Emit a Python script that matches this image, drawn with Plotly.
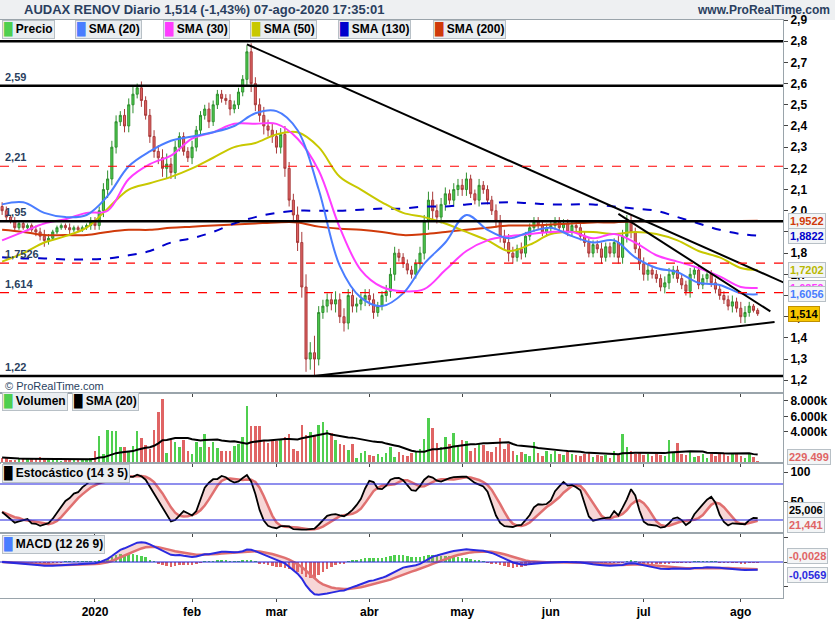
import numpy as np
import pandas as pd
import plotly.graph_objects as go
from plotly.subplots import make_subplots

# daily closes, dic-2019 .. 07-ago-2020
close = [
    2.00, 1.97, 1.95, 1.92, 1.94, 1.92, 1.93, 1.91, 1.90, 1.88, 1.86, 1.87, 1.90, 1.92, 1.93, 1.92, 1.91, 1.92, 1.91, 1.92, 1.93, 1.95,
    1.93, 2.00, 2.10, 2.15, 2.30, 2.42, 2.45, 2.40, 2.50, 2.55, 2.58, 2.52, 2.45, 2.35, 2.28, 2.25, 2.20, 2.22, 2.18, 2.30, 2.35, 2.28, 2.25,
    2.30, 2.38, 2.45, 2.48, 2.42, 2.50, 2.55, 2.53, 2.52, 2.48, 2.50, 2.56, 2.62, 2.75, 2.60, 2.50, 2.45, 2.40, 2.38, 2.35,
    2.30, 2.36, 2.20, 2.05, 1.98, 1.85, 1.64, 1.30, 1.33, 1.30, 1.52, 1.55, 1.58, 1.56, 1.58, 1.50, 1.47, 1.60, 1.55, 1.56, 1.58, 1.60,
    1.58, 1.52, 1.55, 1.60, 1.62, 1.70, 1.80, 1.78, 1.75, 1.72, 1.70, 1.75, 1.80, 1.95, 2.05, 2.00, 1.97, 2.03, 2.08, 2.05, 2.10, 2.12,
    2.10, 2.15, 2.08, 2.05, 2.12, 2.10, 2.05, 2.00, 1.95, 1.88, 1.85, 1.80, 1.78, 1.82, 1.80, 1.88, 1.92, 1.95, 1.93, 1.90, 1.92,
    1.93, 1.95, 1.92, 1.94, 1.90, 1.93, 1.92, 1.88, 1.85, 1.80, 1.84, 1.82, 1.78, 1.83, 1.80, 1.85, 1.78, 1.88, 1.95, 1.90, 1.82, 1.75,
    1.70, 1.72, 1.70, 1.68, 1.64, 1.66, 1.70, 1.72, 1.68, 1.65, 1.62, 1.70, 1.72, 1.65, 1.68, 1.70, 1.66, 1.63, 1.60, 1.58, 1.55, 1.57, 1.54,
    1.50, 1.52, 1.55, 1.53, 1.514,
]
# wick length beyond the candle body, in hundredths
wick = [
    2, 2, 1, 2, 1, 1, 1, 1, 2, 2, 3, 2, 1, 1, 1, 1, 2, 1, 1, 1, 1, 2,
    2, 2, 3, 4, 3, 3, 2, 3, 3, 4, 2, 3, 2, 3, 3, 3, 4, 5, 3, 3, 2, 2, 2,
    3, 2, 2, 2, 3, 2, 2, 2, 2, 3, 2, 2, 2, 3, 4, 3, 3, 4, 3, 3,
    3, 3, 4, 3, 3, 4, 5, 6, 5, 8, 3, 3, 3, 3, 4, 3, 4, 3, 3, 3, 3, 3,
    3, 3, 2, 2, 3, 3, 3, 2, 2, 2, 2, 2, 3, 3, 4, 4, 3, 3, 3, 2, 3, 3,
    3, 3, 2, 2, 3, 2, 2, 2, 3, 3, 3, 4, 3, 2, 3, 2, 2, 2, 2, 2, 2,
    2, 2, 2, 2, 2, 2, 2, 2, 2, 2, 2, 2, 3, 2, 2, 2, 3, 3, 3, 3, 2, 3,
    3, 3, 2, 2, 2, 3, 3, 2, 2, 2, 2, 3, 2, 2, 2, 2, 2, 2, 2, 2, 2, 3, 2,
    3, 3, 2, 1, 1,
]
volume = [  # thousands
    700, 600, 450, 400, 700, 500, 500, 600, 550, 800, 700, 600, 450, 350, 300, 400, 350, 400, 350, 350, 400, 650,
    1600, 3500, 1200, 4200, 4100, 4100, 2100, 2100, 1500, 2200, 4100, 3200, 2300, 1800, 4200, 6600, 8200, 1300, 3000, 2700, 2100, 2900, 1500,
    1200, 2700, 2100, 3700, 2100, 2700, 1900, 1500, 1500, 1600, 2200, 2500, 3300, 7300, 4800, 4800, 4800, 2800, 2600, 2900,
    2800, 2900, 3300, 3700, 1800, 1600, 4900, 3600, 4000, 3600, 4900, 5300, 4300, 3800, 3000, 2400, 2300, 1700, 2400, 700, 1300, 1500,
    1000, 900, 1100, 800, 1300, 2100, 800, 1400, 1000, 900, 1300, 1600, 1800, 3100, 5800, 4500, 2600, 2000, 3400, 2500, 3800, 2200,
    3000, 2800, 1500, 1900, 2500, 2300, 1500, 1400, 2000, 3200, 1800, 2400, 1500, 1000, 1400, 1200, 900, 2700, 1300, 900, 1500,
    1100, 1500, 1200, 1000, 1400, 1100, 1000, 900, 1200, 1300, 800, 1000, 900, 1000, 700, 1500, 1200, 3700, 2000, 1500, 1200, 1300,
    1000, 1200, 900, 1100, 1000, 900, 3000, 1400, 2600, 1200, 1000, 1500, 800, 900, 1100, 700, 1200, 900, 1300, 1100, 900, 1300, 1200,
    900, 700, 1300, 800, 230,
]

# moving averages sampled every 5 bars (plus the last bar)
sma20 = [2.03, 2.04, 1.99, 1.97, 1.98, 2.07, 2.21, 2.28, 2.33, 2.35, 2.37, 2.40, 2.46, 2.47, 2.38, 2.10, 1.74, 1.59, 1.55, 1.61,
         1.75, 1.85, 1.98, 1.91, 1.87, 1.90, 1.92, 1.88, 1.85, 1.86, 1.78, 1.73, 1.71, 1.66, 1.65, 1.61, 1.6056]
sma30 = [1.86, 1.90, 1.94, 1.96, 1.99, 2.00, 2.15, 2.22, 2.26, 2.34, 2.37, 2.41, 2.41, 2.41, 2.34, 2.19, 1.92, 1.72, 1.64, 1.62,
         1.63, 1.72, 1.81, 1.86, 1.88, 1.89, 1.90, 1.90, 1.87, 1.89, 1.85, 1.79, 1.76, 1.73, 1.69, 1.64, 1.6359]
sma50 = [1.76, 1.80, 1.85, 1.88, 1.92, 2.01, 2.10, 2.13, 2.16, 2.20, 2.25, 2.30, 2.32, 2.36, 2.37, 2.30, 2.16, 2.10, 2.04, 1.99,
         1.97, 1.94, 1.90, 1.86, 1.81, 1.84, 1.89, 1.90, 1.90, 1.89, 1.90, 1.89, 1.86, 1.81, 1.78, 1.73, 1.7202]
sma130 = [1.78, 1.775, 1.775, 1.77, 1.77, 1.775, 1.79, 1.81, 1.85, 1.87, 1.90, 1.94, 1.97, 1.99, 2.00, 2.00, 2.00, 2.005, 2.01, 2.01,
          2.02, 2.02, 2.03, 2.035, 2.04, 2.035, 2.03, 2.03, 2.03, 2.02, 2.01, 2.00, 1.97, 1.94, 1.91, 1.89, 1.8822]
sma200 = [1.91, 1.90, 1.885, 1.885, 1.885, 1.90, 1.91, 1.91, 1.92, 1.925, 1.93, 1.935, 1.94, 1.945, 1.945, 1.925, 1.915, 1.91, 1.90, 1.885,
          1.89, 1.90, 1.91, 1.92, 1.93, 1.93, 1.935, 1.94, 1.945, 1.945, 1.95, 1.95, 1.952, 1.952, 1.952, 1.952, 1.9522]

months = ["2020", "feb", "mar", "abr", "may", "jun", "jul", "ago"]
month_start = [22, 45, 65, 87, 109, 130, 152, 175]

levels_solid = [2.80, 2.59, 1.95, 1.22]
levels_dash = [2.21, 1.7526, 1.614]
level_labels = [("2,59", 2.59), ("2,21", 2.21), ("1,95", 1.95), ("1,7526", 1.7526), ("1,614", 1.614), ("1,22", 1.22)]
# trend lines: (bar, price) pairs
trends = [((58, 2.785), (187, 1.645)), ((146, 1.985), (182, 1.525)), ((74, 1.22), (183, 1.475))]

n = len(close)
idx = np.arange(n)
c = np.array(close)
o = np.r_[2.02, c[:-1]]
w = np.array(wick) / 100
h = np.maximum(o, c) + w
l = np.minimum(o, c) - w
sidx = list(range(0, n, 5)) + [n - 1]

GREEN, RED = "#4fcf4f", "#e06464"
W_SMA = dict(b="#4a7dff", p="#ff3cff", y="#c8c800", d="#0000cc", o="#d03a0a")

fig = make_subplots(rows=4, cols=1, shared_xaxes=True, vertical_spacing=0,
                    row_heights=[373, 70, 70, 65])

fig.add_trace(go.Candlestick(x=idx, open=o, high=h, low=l, close=c,
                             increasing=dict(fillcolor=GREEN, line=dict(color="#2f8f2f", width=1)),
                             decreasing=dict(fillcolor=RED, line=dict(color="#a83a3a", width=1)),
                             whiskerwidth=0, showlegend=False), 1, 1)
for vals, col, dash in [(sma200, W_SMA["o"], "solid"), (sma130, W_SMA["d"], "dash"), (sma50, W_SMA["y"], "solid"),
                        (sma30, W_SMA["p"], "solid"), (sma20, W_SMA["b"], "solid")]:
    fig.add_trace(go.Scatter(x=sidx[:len(vals)], y=vals, mode="lines", line=dict(color=col, width=2, dash=dash, shape="spline"),
                             showlegend=False, hoverinfo="skip"), 1, 1)
for (x0, y0), (x1, y1) in trends:
    fig.add_trace(go.Scatter(x=[x0, x1], y=[y0, y1], mode="lines", line=dict(color="black", width=2),
                             showlegend=False, hoverinfo="skip"), 1, 1)
for lv in levels_solid:
    fig.add_hline(y=lv, line=dict(color="black", width=2.5), row=1, col=1)
for lv in levels_dash:
    fig.add_hline(y=lv, line=dict(color="#ff0000", width=1.2, dash="dash"), row=1, col=1)

# volume
vol = np.array(volume)
vcol = [GREEN if c[i] >= o[i] else RED for i in range(n)]
fig.add_trace(go.Bar(x=idx, y=vol, marker=dict(color=vcol, line_width=0), width=0.6, showlegend=False), 2, 1)
vsma = pd.Series(vol).rolling(20, min_periods=1).mean()
fig.add_trace(go.Scatter(x=idx, y=vsma, mode="lines", line=dict(color="black", width=2), showlegend=False), 2, 1)

# stochastic 14 3 5
hh = pd.Series(h).rolling(14, min_periods=1).max()
ll = pd.Series(l).rolling(14, min_periods=1).min()
k = (100 * (pd.Series(c) - ll) / (hh - ll)).rolling(3, min_periods=1).mean()
d = k.rolling(5, min_periods=1).mean()
fig.add_trace(go.Scatter(x=idx, y=d, mode="lines", line=dict(color="#e07070", width=2.5), showlegend=False), 3, 1)
fig.add_trace(go.Scatter(x=idx, y=k, mode="lines", line=dict(color="black", width=1.8), fill="tonexty",
                         fillcolor="rgba(230,120,120,0.3)", showlegend=False), 3, 1)
for lv in (20, 80):
    fig.add_hline(y=lv, line=dict(color="#2020dd", width=1.2), row=3, col=1)

# MACD 12 26 9
cs = pd.Series(c)
macd = cs.ewm(span=12, adjust=False).mean() - cs.ewm(span=26, adjust=False).mean()
sig = macd.ewm(span=9, adjust=False).mean()
hist = macd - sig
fig.add_trace(go.Bar(x=idx, y=hist, marker=dict(color=[GREEN if v >= 0 else RED for v in hist], line_width=0),
                     width=0.6, showlegend=False), 4, 1)
fig.add_trace(go.Scatter(x=idx, y=sig, mode="lines", line=dict(color="#e07070", width=2.5), showlegend=False), 4, 1)
fig.add_trace(go.Scatter(x=idx, y=macd, mode="lines", line=dict(color="#2a2ae0", width=2), fill="tonexty",
                         fillcolor="rgba(230,120,120,0.3)", showlegend=False), 4, 1)
fig.add_hline(y=0, line=dict(color="#2020dd", width=1.2), row=4, col=1)
mlo = float(min(macd.min(), sig.min())) * 1.1
mhi = -mlo * 29 / 36

axfont = dict(family="Arial", size=12, color="black")
fig.update_xaxes(range=[-0.5, 185], showgrid=False, tickvals=month_start, ticktext=["<b>%s</b>" % m for m in months],
                 ticks="outside", ticklen=3, showline=True, linecolor="#9aa4ab", mirror=True, tickfont=axfont,
                 rangeslider_visible=False)
fig.update_xaxes(showticklabels=False, row=1, col=1)
fig.update_xaxes(showticklabels=False, row=2, col=1)
fig.update_xaxes(showticklabels=False, row=3, col=1)
fig.update_yaxes(side="right", showgrid=False, ticks="outside", ticklen=4, showline=True, linecolor="#9aa4ab",
                 mirror=True, tickfont=axfont)
pt = [round(1.2 + 0.1 * i, 1) for i in range(18)]
fig.update_yaxes(range=[1.14, 2.9], tickvals=pt, ticktext=["<b>%s</b>" % str(v).replace(".", ",") for v in pt], row=1, col=1)
fig.update_yaxes(range=[0, 9000], tickvals=[4000, 6000, 8000], ticktext=["<b>4.000k</b>", "<b>6.000k</b>", "<b>8.000k</b>"],
                 row=2, col=1)
fig.update_yaxes(range=[-1.7, 115], tickvals=[50, 100], ticktext=["<b>50</b>", "<b>100</b>"], row=3, col=1)
fig.update_yaxes(range=[mlo, mhi], showticklabels=False, row=4, col=1)

PW, PH, BOT = 783.0, 578.0, 598.0


def px(xp):
    return xp / PW


def py(yp):
    return (BOT - yp) / PH


ann = []


def box(text, xp, yp, color="black", bg="#e9edf0", border="#b8c0c6", anchor="left", size=12):
    ann.append(dict(text=text, x=px(xp), y=py(yp), xref="paper", yref="paper", xanchor=anchor, yanchor="middle",
                    showarrow=False, bgcolor=bg, bordercolor=border, borderwidth=1, borderpad=1,
                    font=dict(family="Arial", size=size, color=color)))


def sw(col):
    return "<span style='color:%s'>█</span> " % col


def ypx(v):
    # price -> pixel row in the main panel
    return 20 + (2.9 - v) * (373.0 / 1.76)


# header
ann.append(dict(text="<b>AUDAX RENOV Diario 1,514 (-1,43%) 07-ago-2020 17:35:01</b>", x=px(22), y=py(10), xref="paper",
                yref="paper", xanchor="left", yanchor="middle", showarrow=False, font=dict(family="Arial", size=13)))
ann.append(dict(text="<b>www.ProRealTime.com</b>", x=px(832), y=py(10), xref="paper", yref="paper", xanchor="right",
                yanchor="middle", showarrow=False, font=dict(family="Arial", size=12)))
# legend rows
x0 = 2
for t, col in [("Precio", GREEN), ("SMA (20)", W_SMA["b"]), ("SMA (30)", W_SMA["p"]), ("SMA (50)", W_SMA["y"]),
               ("SMA (130)", W_SMA["d"]), ("SMA (200)", W_SMA["o"])]:
    box(sw(col) + "<b>%s</b>" % t, x0, 29)
    x0 += 16 + 7.2 * len(t) + 14
box(sw(GREEN) + "<b>Volumen</b>", 2, 401)
box(sw("black") + "<b>SMA (20)</b>", 72, 401)
box(sw("black") + "<b>Estocástico (14 3 5)</b>", 2, 473)
box(sw(W_SMA["b"]) + "<b>MACD (12 26 9)</b>", 2, 544)
ann.append(dict(text="© ProRealTime.com", x=px(3), y=py(386), xref="paper", yref="paper", xanchor="left",
                yanchor="middle", showarrow=False, font=dict(family="Arial", size=11)))
for t, v in level_labels:
    ann.append(dict(text="<b>%s</b>" % t, x=px(3), y=v, xref="paper", yref="y", xanchor="left", yanchor="bottom",
                    showarrow=False, font=dict(family="Arial", size=11), yshift=1))
# value boxes on the right axis
for t, v, col in [("1,9522", 1.9522, W_SMA["o"]), ("1,8822", 1.8822, W_SMA["d"]), ("1,7202", 1.7202, "#b8b800"),
                  ("1,6359", 1.6359, W_SMA["p"]), ("1,6056", 1.6056, W_SMA["b"])]:
    box("<b>%s</b>" % t, 788, ypx(v), color=col, bg="#f3f5f6", size=11)
box("<b>1,514</b>", 788, ypx(1.514), bg="#f7c600", border="#c09000", size=11)
box("<b>229.499</b>", 787, 457, color=RED, bg="#f3f5f6", size=11)
box("<b>25,006</b>", 787, 510, bg="#f3f5f6", size=11)
box("<b>21,441</b>", 787, 525, color=RED, bg="#f3f5f6", size=11)
box("<b>-0,0028</b>", 787, 556, color=RED, bg="#f3f5f6", size=11)
box("<b>-0,0569</b>", 787, 575, color="#2a2ae0", bg="#f3f5f6", size=11)

# header strip behind the title
fig.add_shape(type="rect", xref="paper", yref="paper", x0=-0.01, x1=1.07, y0=1, y1=1 + 20 / PH,
              fillcolor="#eef0f2", line_width=0, layer="below")

fig.update_layout(
    width=835, height=620, margin=dict(l=0, r=52, t=20, b=22), plot_bgcolor="white", paper_bgcolor="white",
    annotations=ann, bargap=0, showlegend=False,
)

# drop the default page margin so the figure sits at the window's top-left corner
fig.write_html("out.html", config={"displayModeBar": False}, post_script="document.body.style.margin='0';")
